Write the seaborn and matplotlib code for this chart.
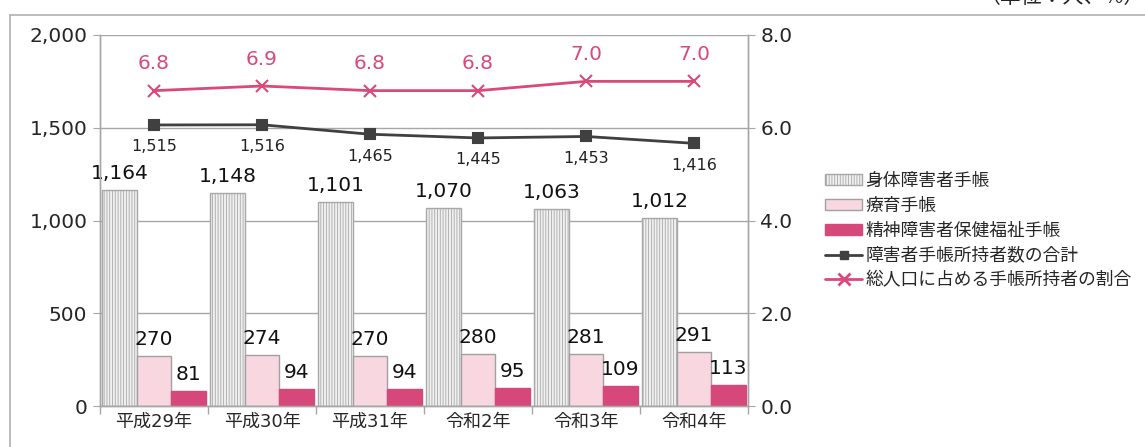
import numpy as np
import pandas as pd
import matplotlib
matplotlib.use('Agg')
import matplotlib.pyplot as plt
import seaborn as sns
from matplotlib.lines import Line2D
from matplotlib.patches import Patch
from matplotlib.ticker import FuncFormatter, FixedLocator

sns.set_style('white')
plt.rcParams['font.family'] = ['Noto Sans CJK JP', 'DejaVu Sans']
plt.rcParams['hatch.linewidth'] = 0.6
num_font = ['DejaVu Sans', 'Noto Sans CJK JP']

# data
years = ['平成29年', '平成30年', '平成31年', '令和2年', '令和3年', '令和4年']
kinds = ['身体障害者手帳', '療育手帳', '精神障害者保健福祉手帳']
shintai = [1164, 1148, 1101, 1070, 1063, 1012]
ryoiku = [270, 274, 270, 280, 281, 291]
seishin = [81, 94, 94, 95, 109, 113]
total = [1515, 1516, 1465, 1445, 1453, 1416]
ratio = [6.8, 6.9, 6.8, 6.8, 7.0, 7.0]
total_label = '障害者手帳所持者数の合計'
ratio_label = '総人口に占める手帳所持者の割合'

bar_colors = ['#f0f0f0', '#f8d7e1', '#d6487a']
edge_colors = ['#a8a8a8', '#a0a0a0', '#d6487a']
total_color = '#404040'
ratio_color = '#d9497a'
grid_color = '#a6a6a6'

df = pd.DataFrame({
    'year': years * 3,
    'kind': [kinds[0]] * 6 + [kinds[1]] * 6 + [kinds[2]] * 6,
    'count': shintai + ryoiku + seishin,
})

fig = plt.figure(figsize=(11.45, 4.47), dpi=100)
ax = fig.add_axes([100 / 1145, 1 - 406 / 447, 648 / 1145, 371 / 447])

sns.barplot(data=df, x='year', y='count', hue='kind', hue_order=kinds,
            palette=bar_colors, saturation=1, width=0.96, gap=0,
            legend=False, ax=ax, zorder=2)

for i, cont in enumerate(ax.containers):
    for p in cont:
        p.set_edgecolor(edge_colors[i])
        p.set_linewidth(1.0)
        if i == 0:
            p.set_hatch('||||||')
    ax.bar_label(cont, labels=[f'{int(round(v)):,}' for v in cont.datavalues],
                 padding=5, fontsize=14.5, color='#111111', family=num_font)

# total line (left axis)
sns.pointplot(data=pd.DataFrame({'year': years, 'total': total}), x='year', y='total',
              color=total_color, markers='s', markersize=7, linewidth=2,
              errorbar=None, ax=ax)
for i, v in enumerate(total):
    ax.annotate(f'{v:,}', (i, v), xytext=(0, -22), textcoords='offset pixels',
                ha='center', va='center', fontsize=11.5, color='#222222', family=num_font)

ax.set_ylim(0, 2000)
ax.yaxis.set_major_locator(FixedLocator([0, 500, 1000, 1500, 2000]))
ax.yaxis.set_major_formatter(FuncFormatter(lambda v, p: f'{int(v):,}'))
ax.grid(axis='y', color=grid_color, lw=1)
ax.set_axisbelow(True)
ax.set_xlabel('')
ax.set_ylabel('')

# ratio line (right axis)
ax2 = ax.twinx()
sns.pointplot(data=pd.DataFrame({'year': years, 'ratio': ratio}), x='year', y='ratio',
              color=ratio_color, markers='x', markersize=9, linewidth=2,
              errorbar=None, ax=ax2)
for i, v in enumerate(ratio):
    ax2.annotate(f'{v:.1f}', (i, v), xytext=(0, 27), textcoords='offset pixels',
                 ha='center', va='center', fontsize=14.5, color=ratio_color, family=num_font)
ax2.set_ylim(0, 8)
ax2.yaxis.set_major_locator(FixedLocator([0, 2, 4, 6, 8]))
ax2.yaxis.set_major_formatter(FuncFormatter(lambda v, p: f'{v:.1f}'))
ax2.set_xlabel('')
ax2.set_ylabel('')

# x axis: boundary ticks, labels at centers
ax.set_xlim(-0.5, 5.5)
ax.set_xticks(np.arange(-0.5, 6, 1))
ax.set_xticklabels([''] * 7)
ax.set_xticks(np.arange(6), minor=True)
ax.set_xticklabels(years, minor=True, fontsize=13, family=num_font)
ax.tick_params(axis='x', which='major', length=6, color=grid_color, width=1, direction='out', bottom=True)
ax.tick_params(axis='x', which='minor', length=0, pad=5)
ax.tick_params(axis='y', length=5, color=grid_color, direction='out', left=True, labelsize=14.5, pad=4)
ax2.tick_params(axis='y', length=5, color=grid_color, direction='out', right=True, labelsize=14.5, pad=4)
for lab in ax.get_yticklabels() + ax2.get_yticklabels():
    lab.set_family(num_font)

for a in (ax, ax2):
    a.spines['top'].set_visible(False)
    for s in ('left', 'right', 'bottom'):
        a.spines[s].set_color(grid_color)
        a.spines[s].set_linewidth(1)

# legend
handles = [
    Patch(facecolor=bar_colors[0], edgecolor=edge_colors[0], hatch='||||||', label=kinds[0]),
    Patch(facecolor=bar_colors[1], edgecolor=edge_colors[1], label=kinds[1]),
    Patch(facecolor=bar_colors[2], edgecolor=edge_colors[2], label=kinds[2]),
    Line2D([], [], color=total_color, marker='s', markersize=6, lw=2, label=total_label),
    Line2D([], [], color=ratio_color, marker='x', markersize=8, mew=2, lw=2, label=ratio_label),
]
fig.legend(handles=handles, loc='upper left', bbox_to_anchor=(818 / 1145, 1 - 165 / 447),
           frameon=False, fontsize=12.8, handlelength=2.1, handleheight=0.55,
           labelspacing=0.38, handletextpad=0.15, borderaxespad=0)

# outer frame and unit note (cut off at top, as in the source)
fig.add_artist(Line2D([10 / 1145, 1], [1 - 15 / 447, 1 - 15 / 447], color='#b0b0b0', lw=1.2,
                      transform=fig.transFigure))
fig.add_artist(Line2D([10 / 1145, 10 / 1145], [0, 1 - 15 / 447], color='#b0b0b0', lw=1.2,
                      transform=fig.transFigure))
fig.text(1.0, 1 + 3 / 447, '（単位：人、%）', ha='right', va='center', fontsize=15, color='#222222')

fig.savefig('out.png', dpi=100)
